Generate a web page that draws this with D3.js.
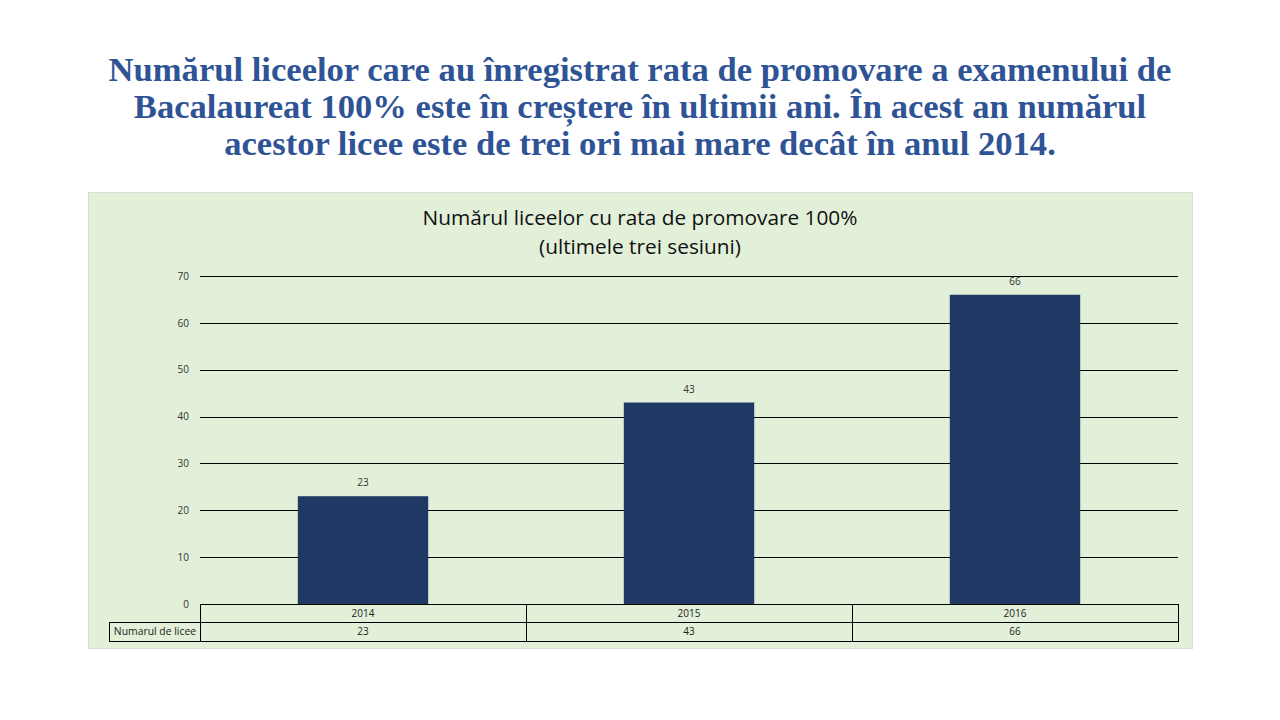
<!DOCTYPE html>
<html>
<head>
<meta charset="utf-8">
<script src="https://cdn.jsdelivr.net/npm/d3@7"></script>
<style>
  body { margin: 0; background: #fff; }
  svg { display: block; }
</style>
</head>
<body>
<div id="chart"></div>
<script>
const headline = [
  'Numărul liceelor care au înregistrat rata de promovare a examenului de',
  'Bacalaureat 100% este în creștere în ultimii ani. În acest an numărul',
  'acestor licee este de trei ori mai mare decât în anul 2014.'
];
const chart_title = ['Numărul liceelor cu rata de promovare 100%', '(ultimele trei sesiuni)'];
const years = ['2014', '2015', '2016'];
const licee = [23, 43, 66];
const series_name = 'Numarul de licee';
const y_ticks = [0, 10, 20, 30, 40, 50, 60, 70];

const svg = d3.select('#chart')
  .append('svg')
  .attr('width', 1280)
  .attr('height', 720);

// big headline
svg.append('g')
  .selectAll('text')
  .data(headline)
  .enter()
  .append('text')
  .attr('x', 640)
  .attr('y', (d, i) => 81 + i * 37)
  .attr('text-anchor', 'middle')
  .attr('font-family', '"Liberation Serif", serif')
  .attr('font-weight', 'bold')
  .attr('font-size', 34.6)
  .attr('fill', '#2f5496')
  .text(d => d);

// chart box
svg.append('rect')
  .attr('x', 88.5).attr('y', 192.5)
  .attr('width', 1104).attr('height', 456)
  .attr('fill', '#e2efd9')
  .attr('stroke', '#d9dcd6');

svg.append('g')
  .selectAll('text')
  .data(chart_title)
  .enter()
  .append('text')
  .attr('x', 640)
  .attr('y', (d, i) => 225 + i * 29)
  .attr('text-anchor', 'middle')
  .attr('font-family', '"Open Sans", sans-serif')
  .attr('font-size', 20.8)
  .attr('fill', '#111')
  .text(d => d);

const plot_left = 200, plot_right = 1178, plot_top = 276, plot_bottom = 604;

const x = d3.scaleBand()
  .domain(years)
  .range([plot_left, plot_right])
  .paddingInner(0.6)
  .paddingOuter(0.3);

const y = d3.scaleLinear()
  .domain([0, 70])
  .range([plot_bottom, plot_top]);

// gridlines
svg.append('g')
  .selectAll('line')
  .data(y_ticks.filter(d => d > 0))
  .enter()
  .append('line')
  .attr('x1', plot_left).attr('x2', plot_right)
  .attr('y1', d => Math.round(y(d)) + 0.5)
  .attr('y2', d => Math.round(y(d)) + 0.5)
  .attr('stroke', '#000')
  .attr('stroke-width', 1);

const y_axis = svg.append('g')
  .attr('transform', `translate(${plot_left},0)`)
  .call(d3.axisLeft(y).tickValues(y_ticks).tickSize(0).tickPadding(11));
y_axis.select('.domain').remove();
y_axis.selectAll('text')
  .attr('font-family', '"Open Sans", sans-serif')
  .attr('font-size', 10)
  .attr('fill', '#333');

// bars
svg.append('g')
  .selectAll('rect')
  .data(licee)
  .enter()
  .append('rect')
  .attr('x', (d, i) => x(years[i]))
  .attr('y', d => y(d))
  .attr('width', x.bandwidth())
  .attr('height', d => y(0) - y(d))
  .attr('fill', '#1f3864');

svg.append('g')
  .selectAll('text')
  .data(licee)
  .enter()
  .append('text')
  .attr('x', (d, i) => x(years[i]) + x.bandwidth() / 2)
  .attr('y', d => y(d) - 10)
  .attr('text-anchor', 'middle')
  .attr('font-family', '"Open Sans", sans-serif')
  .attr('font-size', 10)
  .attr('fill', '#333')
  .text(d => d);

// data table under the axis
const row1 = plot_bottom, row2 = 622, row3 = 641, label_left = 109;
const cell_w = (plot_right - plot_left) / years.length;
const table = svg.append('g')
  .attr('fill', 'none')
  .attr('stroke', '#000')
  .attr('stroke-width', 1);

years.forEach((yr, i) => {
  table.append('rect')
    .attr('x', plot_left + i * cell_w + 0.5).attr('y', row1 + 0.5)
    .attr('width', cell_w).attr('height', row3 - row1);
});
table.append('line')
  .attr('x1', label_left + 0.5).attr('x2', plot_right + 0.5)
  .attr('y1', row2 + 0.5).attr('y2', row2 + 0.5);
table.append('rect')
  .attr('x', label_left + 0.5).attr('y', row2 + 0.5)
  .attr('width', plot_left - label_left).attr('height', row3 - row2);

const cell_text = svg.append('g')
  .attr('font-family', '"Open Sans", sans-serif')
  .attr('font-size', 10)
  .attr('fill', '#222')
  .attr('text-anchor', 'middle');

cell_text.selectAll('.yr')
  .data(years)
  .enter()
  .append('text')
  .attr('x', d => plot_left + years.indexOf(d) * cell_w + cell_w / 2)
  .attr('y', row1 + 13)
  .text(d => d);

cell_text.selectAll('.val')
  .data(licee)
  .enter()
  .append('text')
  .attr('x', (d, i) => plot_left + i * cell_w + cell_w / 2)
  .attr('y', row2 + 13)
  .text(d => d);

cell_text.append('text')
  .attr('x', (label_left + plot_left) / 2 + 0.5)
  .attr('y', row2 + 13)
  .attr('font-size', 10.4)
  .text(series_name);
</script>
</body>
</html>
